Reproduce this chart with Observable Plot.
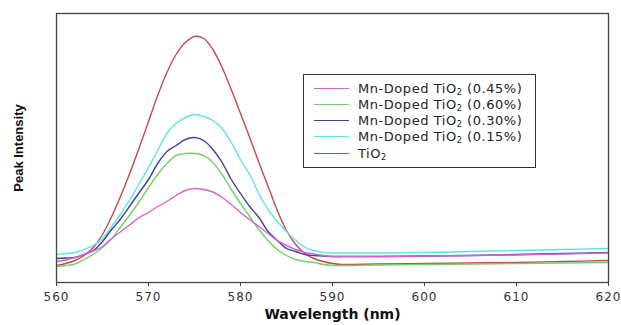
<!DOCTYPE html>
<html>
<head>
<meta charset="utf-8">
<script src="https://cdn.jsdelivr.net/npm/d3@7"></script>
<script src="https://cdn.jsdelivr.net/npm/@observablehq/plot@0.6"></script>
<style>
  html, body { margin: 0; padding: 0; background: #fff; }
  #wrap { position: relative; width: 621px; height: 325px; }
  #wrap svg { font-family: "DejaVu Sans", sans-serif; }
  .tick-lab text { font-size: 12px; fill: #333; letter-spacing: 1px; }
  #legend {
    position: absolute; left: 303px; top: 74px; width: 233px; height: 94px;
    border: 1px solid #333; background: #fff; box-sizing: border-box;
    font-family: "DejaVu Sans", sans-serif; font-size: 13px; letter-spacing: 0.55px; color: #222;
  }
  #legend .row { position: absolute; left: 10px; height: 16px; line-height: 16px; white-space: nowrap; }
  #legend .sw { display: inline-block; width: 35px; height: 0; border-top: 1.5px solid; vertical-align: middle; margin-right: 9px; position: relative; top: -1px; }
  #legend sub { font-size: 8px; vertical-align: -2px; line-height: 0; }
</style>
</head>
<body>
<div id="wrap"></div>
<script>
// Wavelength (nm)
const wavelengths = [560,561,562,563,564,565,566,567,568,569,570,571,572,573,574,575,576,577,578,579,580,581,582,583,584,585,586,587,588,589,590,591,592,595,600,605,610,615,620];
// Peak intensity (arbitrary units) per sample
const mn045 = [21,22.5,25,28,31.5,36,44,51,58,65,70,76,81,87,92,94,93,90.5,85,78,70,63,56,49,42,37,33,30,28.5,27,26,26,26,26,26.5,27,27.5,28.5,29.5];
const mn060 = [16,17,18.5,23,28,35,44,56,68,81,95,108,119,127,129,129,127,120,108,93,79,66,53,42,33,27,23,21,20,18,17,17,17,17.5,18,18.5,19,19.5,20];
const mn030 = [24,24.5,25,28,32,41,53,64,77,90,103,119,131,137,143,145,142,133,120,103,89,76,65,51,42,34,31,28,27,26.5,26,26,26,26,26.5,27,28,29,30];
const mn015 = [28,29,30,33,37,44,56,69,83,99,115,132,149,159,165,168,166,162,154,140,123,108,89,73,61,51,42,35,32,30,29.5,29.5,29.5,29.5,30,31,32,33,34];
const tio2  = [17,19,22,27,35,48,66,87,110,135,161,187,210,228,240,246,244,233,215,193,169,145,120,96,72,52,38,29,24,21,19,18,18,18.5,19,19.5,20,21,22];

const seriesNames = ["Mn-Doped TiO2 (0.45%)","Mn-Doped TiO2 (0.60%)","Mn-Doped TiO2 (0.30%)","Mn-Doped TiO2 (0.15%)","TiO2"];
const seriesValues = [mn045, mn060, mn030, mn015, tio2];
const seriesColors = ["#d462d2","#6fd266","#40409c","#5fe4e4","#c9474a"];
const xTicks = [560,570,580,590,600,610,620];

const rows = [];
seriesNames.forEach((name, i) => {
  wavelengths.forEach((w, j) => rows.push({series: name, x: w, y: seriesValues[i][j]}));
});

const drawOrder = ["TiO2","Mn-Doped TiO2 (0.15%)","Mn-Doped TiO2 (0.30%)","Mn-Doped TiO2 (0.60%)","Mn-Doped TiO2 (0.45%)"];

const chart = Plot.plot({
  width: 621,
  height: 325,
  marginLeft: 56,
  marginRight: 13,
  marginTop: 13,
  marginBottom: 43,
  x: {domain: [560, 620]},
  y: {domain: [0, 269], axis: null},
  color: {domain: seriesNames, range: seriesColors},
  marks: [
    ...drawOrder.map(n => Plot.line(rows.filter(r => r.series === n), {
      x: "x", y: "y", stroke: "series", strokeWidth: 1.4, curve: "catmull-rom"
    })),
    Plot.frame({stroke: "#444", strokeWidth: 1.3}),
    Plot.axisX({ticks: xTicks, tickSize: 4, tickPadding: 6, label: null, stroke: "#444", className: "tick-lab"}),
    Plot.text(["Wavelength (nm)"], {frameAnchor: "bottom", dy: 36, fontSize: 14, fontWeight: "bold", fill: "#111", fontFamily: "DejaVu Sans", letterSpacing: "1px"}),
    Plot.text(["Peak Intensity"], {frameAnchor: "left", dx: -38, rotate: -90, textAnchor: "middle", fontSize: 13, fontWeight: "bold", fill: "#111", fontFamily: "Liberation Sans"})
  ]
});

const wrap = document.getElementById("wrap");
wrap.appendChild(chart);

// Legend
const legend = document.createElement("div");
legend.id = "legend";
const rowTops = [6, 22, 38, 54, 71];
seriesNames.forEach((name, i) => {
  const r = document.createElement("div");
  r.className = "row";
  r.style.top = rowTops[i] + "px";
  const sw = document.createElement("span");
  sw.className = "sw";
  sw.style.borderTopColor = seriesColors[i];
  r.appendChild(sw);
  const t = document.createElement("span");
  t.innerHTML = name.replace("TiO2", "TiO<sub>2</sub>");
  r.appendChild(t);
  legend.appendChild(r);
});
wrap.appendChild(legend);
</script>
</body>
</html>
